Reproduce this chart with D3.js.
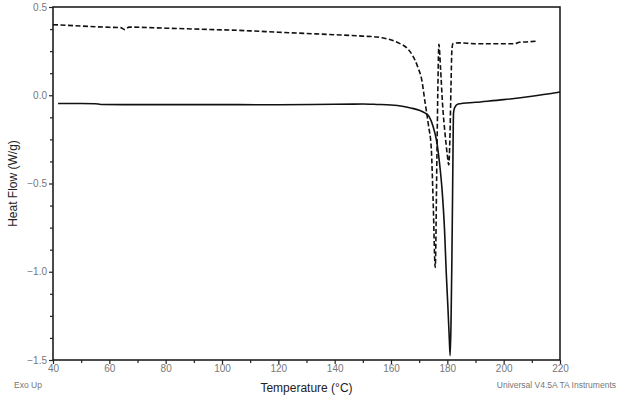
<!DOCTYPE html>
<html>
<head>
<meta charset="utf-8">
<script src="https://cdn.jsdelivr.net/npm/d3@7"></script>
<style>
  body { margin: 0; background: #fff; }
  svg { display: block; font-family: "Liberation Sans", Arial, sans-serif; }
</style>
</head>
<body>
<div id="chart"></div>
<script>
// temperature (°C) / heat flow (W/g) readings, solid trace
const solidTemp = [41.8, 50, 55, 57, 65, 80, 100, 120, 140, 150, 155, 160, 164, 167, 170, 172, 173.5, 175, 176.2, 177.2, 178.2, 179.0, 179.6, 180.2, 180.7, 181.0, 181.3, 181.6, 181.9, 182.2, 182.6, 183.8, 190, 200, 210, 220];
const solidFlow = [-0.047, -0.047, -0.048, -0.052, -0.053, -0.053, -0.053, -0.054, -0.051, -0.05, -0.052, -0.055, -0.062, -0.072, -0.085, -0.1, -0.12, -0.18, -0.26, -0.38, -0.55, -0.76, -1.0, -1.2, -1.38, -1.475, -1.3, -0.95, -0.5, -0.1, -0.07, -0.05, -0.04, -0.025, -0.006, 0.018];

// dashed trace
const dashTemp = [40, 50, 60, 64, 65.5, 67, 80, 95, 110, 120, 130, 140, 150, 155, 158, 161, 163, 165.5, 167.5, 169.5, 171, 172, 173.3, 174.3, 175.0, 175.7, 176.3, 176.7, 177.0, 177.6, 178.3, 179.2, 180.0, 180.5, 180.9, 181.3, 181.6, 182.0, 184, 190, 200, 204, 205.5, 208, 212];
const dashFlow = [0.4, 0.392, 0.385, 0.383, 0.372, 0.386, 0.38, 0.373, 0.365, 0.357, 0.35, 0.343, 0.335, 0.33, 0.322, 0.308, 0.294, 0.27, 0.23, 0.16, 0.08, -0.03, -0.17, -0.3, -0.62, -0.975, -0.35, 0.1, 0.288, 0.15, -0.05, -0.22, -0.34, -0.395, -0.25, 0.05, 0.25, 0.293, 0.297, 0.292, 0.292, 0.292, 0.3, 0.302, 0.307];

const xTicks = [40, 60, 80, 100, 120, 140, 160, 180, 200, 220];
const yTicks = [0.5, 0.0, -0.5, -1.0, -1.5];

const width = 621;
const height = 400;
const margin = { top: 7, right: 61, bottom: 40, left: 53 };

const svg = d3.select("#chart")
  .append("svg")
  .attr("width", width)
  .attr("height", height);

const x = d3.scaleLinear()
  .domain([40, 220])
  .range([margin.left, width - margin.right]);

const y = d3.scaleLinear()
  .domain([-1.5, 0.5])
  .range([height - margin.bottom, margin.top]);

// frame
svg.append("rect")
  .attr("x", x(40))
  .attr("y", y(0.5))
  .attr("width", x(220) - x(40))
  .attr("height", y(-1.5) - y(0.5))
  .attr("fill", "none")
  .attr("stroke", "#111")
  .attr("stroke-width", 1.5);

// minor ticks
const xMinor = d3.range(50, 220, 20);
svg.append("g")
  .attr("transform", `translate(0,${y(-1.5)})`)
  .call(d3.axisBottom(x).tickValues(xMinor).tickSize(3).tickFormat(""))
  .call(g => g.select(".domain").remove());

const yMinor = d3.range(-1.5, 0.5, 0.125).filter(v => Math.abs(v * 2 - Math.round(v * 2)) > 1e-6);
svg.append("g")
  .attr("transform", `translate(${x(40)},0)`)
  .call(d3.axisLeft(y).tickValues(yMinor).tickSize(3).tickFormat(""))
  .call(g => g.select(".domain").remove());

// major axes
svg.append("g")
  .attr("transform", `translate(0,${y(-1.5)})`)
  .call(d3.axisBottom(x).tickValues(xTicks).tickSize(4).tickPadding(1).tickFormat(d3.format("d")))
  .call(g => g.select(".domain").remove());

svg.append("g")
  .attr("transform", `translate(${x(40)},0)`)
  .call(d3.axisLeft(y).tickValues(yTicks).tickSize(4).tickPadding(2).tickFormat(d3.format(".1f")))
  .call(g => g.select(".domain").remove());

svg.selectAll(".tick line").attr("stroke", "#222").attr("stroke-width", 1.2);
svg.selectAll(".tick text")
  .attr("fill", "#777")
  .attr("font-size", 10)
  .attr("font-family", "Liberation Sans, Arial, sans-serif");

// data lines
const line = d3.line()
  .x(d => x(d[0]))
  .y(d => y(d[1]))
  .curve(d3.curveMonotoneX);

svg.append("path")
  .datum(solidTemp.map((t, i) => [t, solidFlow[i]]))
  .attr("fill", "none")
  .attr("stroke", "#111")
  .attr("stroke-width", 1.6)
  .attr("d", line);

svg.append("path")
  .datum(dashTemp.map((t, i) => [t, dashFlow[i]]))
  .attr("fill", "none")
  .attr("stroke", "#111")
  .attr("stroke-width", 1.6)
  .attr("stroke-dasharray", "5,2.5")
  .attr("d", line);

// labels
svg.append("text")
  .attr("transform", `translate(17,${(y(0.5) + y(-1.5)) / 2}) rotate(-90)`)
  .attr("text-anchor", "middle")
  .attr("font-size", 12)
  .attr("fill", "#222")
  .text("Heat Flow (W/g)");

svg.append("text")
  .attr("x", (x(40) + x(220)) / 2)
  .attr("y", 392)
  .attr("text-anchor", "middle")
  .attr("font-size", 12)
  .attr("fill", "#222")
  .text("Temperature (°C)");

svg.append("text")
  .attr("x", 14)
  .attr("y", 388)
  .attr("font-size", 8.5)
  .attr("fill", "#777")
  .text("Exo Up");

svg.append("text")
  .attr("x", 616)
  .attr("y", 388)
  .attr("text-anchor", "end")
  .attr("font-size", 8.5)
  .attr("fill", "#777")
  .text("Universal V4.5A TA Instruments");
</script>
</body>
</html>
